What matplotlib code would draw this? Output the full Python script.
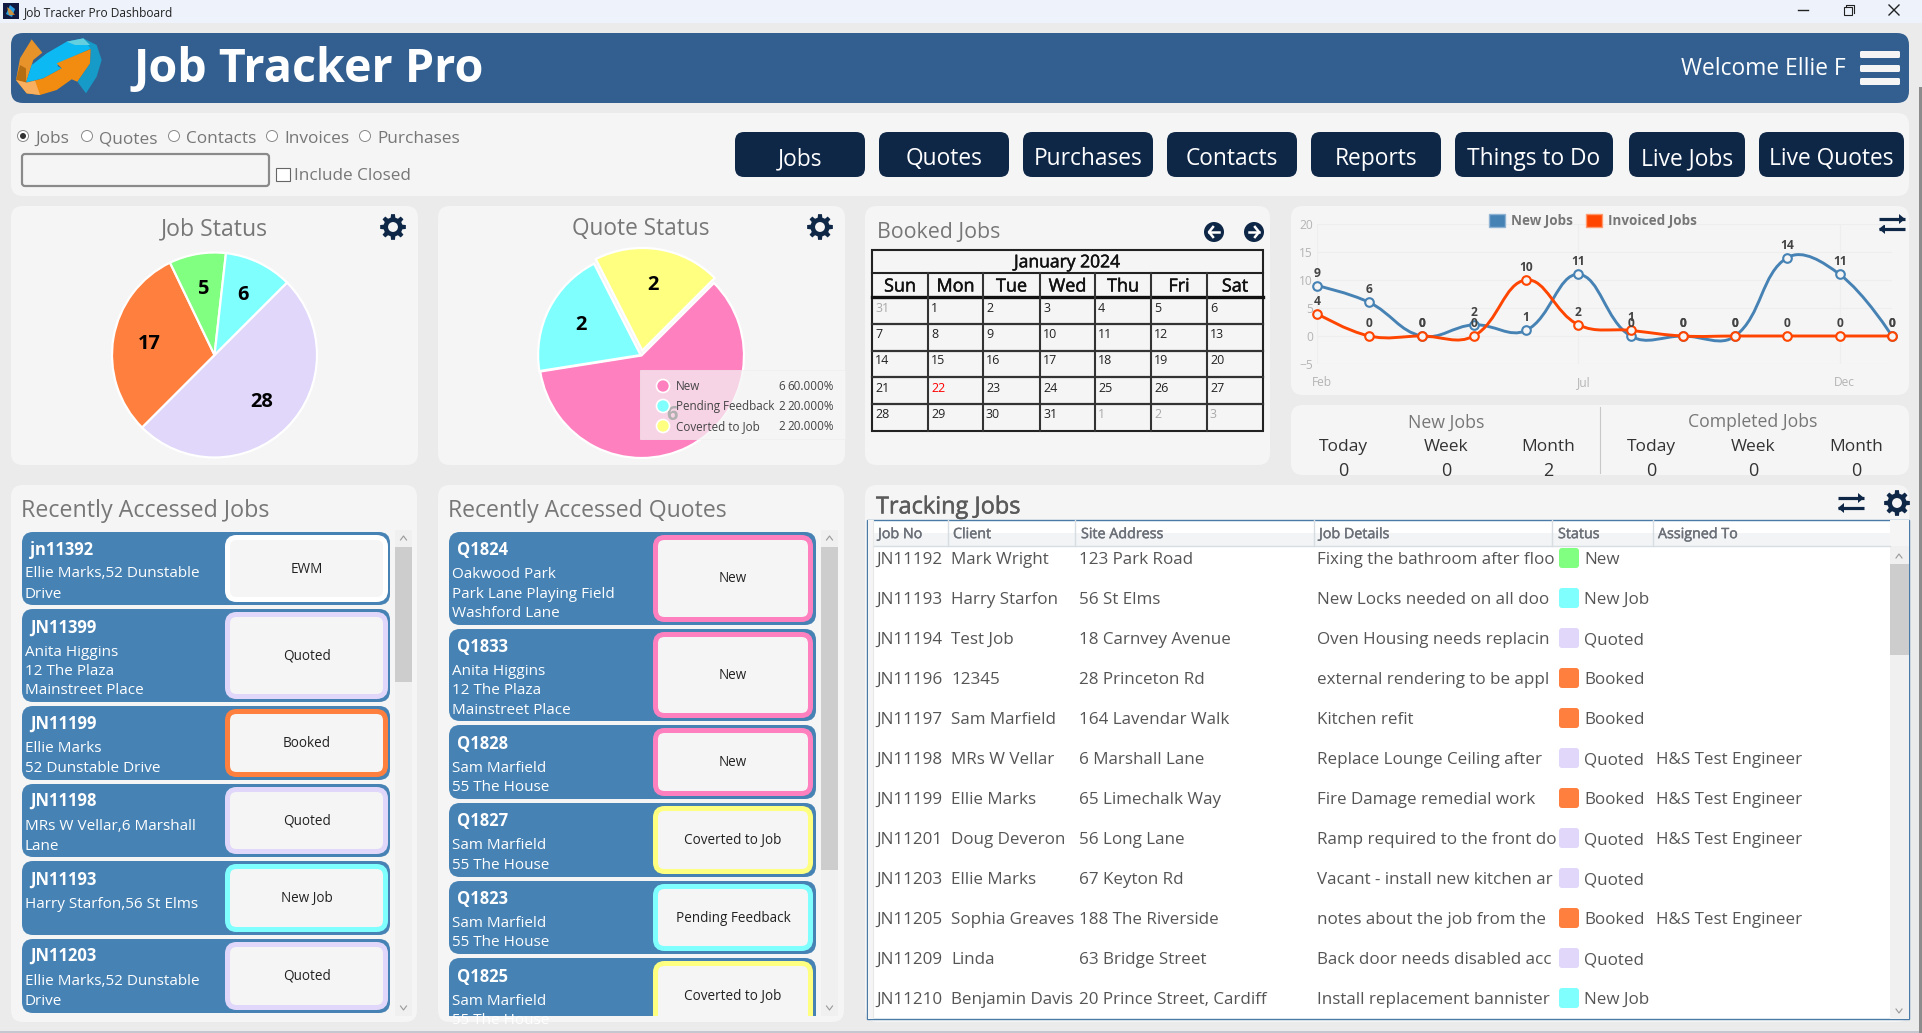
import numpy as np
import matplotlib
matplotlib.use("Agg")
import matplotlib.pyplot as plt
import matplotlib.patheffects as pe
from matplotlib.patches import FancyBboxPatch, Rectangle, Circle, Polygon, PathPatch, Patch
from matplotlib.path import Path
from matplotlib.transforms import ScaledTranslation

plt.rcParams['font.family'] = ['Open Sans', 'DejaVu Sans']

# ---------- data ----------
job_status_labels = ["Quoted", "Booked", "New", "New Job"]
job_status_values = [28, 17, 5, 6]
job_status_colors = ["#e0d7fa", "#ff7f3f", "#80ff80", "#80ffff"]

quote_status_labels = ["New", "Pending Feedback", "Coverted to Job"]
quote_status_values = [6, 2, 2]
quote_status_pct = ["60.000%", "20.000%", "20.000%"]
quote_status_colors = ["#ff80bf", "#80ffff", "#ffff80"]

months = ["Feb", "Mar", "Apr", "May", "Jun", "Jul", "Aug", "Sep", "Oct", "Nov", "Dec", "Jan"]
new_jobs = [9, 6, 0, 2, 1, 11, 0, 0, 0, 14, 11, 0]
invoiced_jobs = [4, 0, 0, 0, 10, 2, 1, 0, 0, 0, 0, 0]

weekdays = ["Sun", "Mon", "Tue", "Wed", "Thu", "Fri", "Sat"]
calendar_days = [[31, 1, 2, 3, 4, 5, 6], [7, 8, 9, 10, 11, 12, 13], [14, 15, 16, 17, 18, 19, 20],
                 [21, 22, 23, 24, 25, 26, 27], [28, 29, 30, 31, 1, 2, 3]]

nav_buttons = ["Jobs", "Quotes", "Purchases", "Contacts", "Reports", "Things to Do", "Live Jobs", "Live Quotes"]
radio_options = ["Jobs", "Quotes", "Contacts", "Invoices", "Purchases"]

stat_heads = ["Today", "Week", "Month", "Today", "Week", "Month"]
stat_values = [0, 0, 2, 0, 0, 0]

job_cards = [
    ("jn11392", ["Ellie Marks,52 Dunstable", "Drive"], "EWM"),
    ("JN11399", ["Anita Higgins", "12 The Plaza", "Mainstreet Place"], "Quoted"),
    ("JN11199", ["Ellie Marks", "52 Dunstable Drive"], "Booked"),
    ("JN11198", ["MRs W Vellar,6 Marshall", "Lane"], "Quoted"),
    ("JN11193", ["Harry Starfon,56 St Elms"], "New Job"),
    ("JN11203", ["Ellie Marks,52 Dunstable", "Drive"], "Quoted"),
]
quote_cards = [
    ("Q1824", ["Oakwood Park", "Park Lane Playing Field", "Washford Lane"], "New"),
    ("Q1833", ["Anita Higgins", "12 The Plaza", "Mainstreet Place"], "New"),
    ("Q1828", ["Sam Marfield", "55 The House"], "New"),
    ("Q1827", ["Sam Marfield", "55 The House"], "Coverted to Job"),
    ("Q1823", ["Sam Marfield", "55 The House"], "Pending Feedback"),
    ("Q1825", ["Sam Marfield", "55 The House"], "Coverted to Job"),
]
table_headers = ["Job No", "Client", "Site Address", "Job Details", "Status", "Assigned To"]
table_rows = [
    ("JN11192", "Mark Wright", "123 Park Road", "Fixing the bathroom after floo", "New", ""),
    ("JN11193", "Harry Starfon", "56 St Elms", "New Locks needed on all doo", "New Job", ""),
    ("JN11194", "Test Job", "18 Carnvey Avenue", "Oven Housing needs replacin", "Quoted", ""),
    ("JN11196", "12345", "28 Princeton Rd", "external rendering to be appl", "Booked", ""),
    ("JN11197", "Sam Marfield", "164 Lavendar Walk", "Kitchen refit", "Booked", ""),
    ("JN11198", "MRs W Vellar", "6 Marshall Lane", "Replace Lounge Ceiling after", "Quoted", "H&S Test Engineer"),
    ("JN11199", "Ellie Marks", "65 Limechalk Way", "Fire Damage remedial work", "Booked", "H&S Test Engineer"),
    ("JN11201", "Doug Deveron", "56 Long Lane", "Ramp required to the front do", "Quoted", "H&S Test Engineer"),
    ("JN11203", "Ellie Marks", "67 Keyton Rd", "Vacant - install new kitchen ar", "Quoted", ""),
    ("JN11205", "Sophia Greaves", "188 The Riverside", "notes about the job from the", "Booked", "H&S Test Engineer"),
    ("JN11209", "Linda", "63 Bridge Street", "Back door needs disabled acc", "Quoted", ""),
    ("JN11210", "Benjamin Davis", "20 Prince Street, Cardiff", "Install replacement bannister", "New Job", ""),
]
status_colors = {"EWM": "#ffffff", "Quoted": "#e0d7fa", "Booked": "#ff7f3f", "New": "#ff80bf",
                 "New Job": "#80ffff", "Coverted to Job": "#ffff80", "Pending Feedback": "#80ffff"}
table_status_colors = dict(status_colors, New="#80ff80")

# ---------- colours ----------
BG, PANEL, HEADER, NAVY, CARD = "#ebebeb", "#f5f5f5", "#325f8f", "#0f2747", "#4682b4"
GREY, DARK = "#777777", "#444444"
W, H = 1922, 1033

fig = plt.figure(figsize=(W / 100, H / 100), dpi=100, facecolor=BG)


def pixel_axes(z):
    a = fig.add_axes([0, 0, 1, 1], zorder=z)
    a.set_xlim(0, W)
    a.set_ylim(H, 0)
    a.axis("off")
    a.patch.set_alpha(0)
    return a


ui = pixel_axes(0)
top = pixel_axes(10)


def T(x, y, s, px, color=DARK, ha="left", weight="normal", ax=ui, clip=None, stroke=0):
    t = ax.text(x, y + 0.36 * px, s, fontsize=px * 0.72, color=color, ha=ha, va="baseline", fontweight=weight)
    if stroke:
        t.set_path_effects([pe.withStroke(linewidth=stroke, foreground=color)])
    if clip is not None:
        t.set_clip_path(Rectangle((clip[0], clip[1]), clip[2] - clip[0], clip[3] - clip[1], transform=ax.transData))
    return t


def RR(x0, y0, x1, y1, r, fc, ec="none", lw=0, ax=ui, z=1, clip=None):
    p = FancyBboxPatch((x0, y0), x1 - x0, y1 - y0, boxstyle=f"round,pad=0,rounding_size={r}",
                       fc=fc, ec=ec, lw=lw * 0.72, zorder=z)
    ax.add_patch(p)
    if clip is not None:
        p.set_clip_path(Rectangle((clip[0], clip[1]), clip[2] - clip[0], clip[3] - clip[1], transform=ax.transData))
    return p


def gear(cx, cy, R=13, bg=PANEL):
    teeth = 8
    pts = []
    for i in range(teeth):
        a = 2 * np.pi * i / teeth
        da = np.pi / teeth
        for ang, rad in [(a - da * .62, R * .74), (a - da * .38, R), (a + da * .38, R), (a + da * .62, R * .74)]:
            pts.append((cx + rad * np.sin(ang), cy - rad * np.cos(ang)))
    ui.add_patch(Polygon(pts, fc=NAVY, ec="none", zorder=3))
    ui.add_patch(Circle((cx, cy), R * .38, fc=bg, ec="none", zorder=4))


def swap(cx, cy, ax=ui):
    for yy, sign in [(cy - 5, 1), (cy + 5, -1)]:
        ax.plot([cx - 13, cx + 13], [yy, yy], color=NAVY, lw=2.3, solid_capstyle="butt", zorder=3)
        tip = cx + 13 * sign
        ax.add_patch(Polygon([(tip, yy), (tip - 6 * sign, yy - 5), (tip - 6 * sign, yy + 5)], fc=NAVY, ec="none", zorder=3))


def chevron(x, y, up, ax=ui):
    d = -2 if up else 2
    ax.plot([x - 3, x, x + 3], [y - d, y + d, y - d], color="#999999", lw=0.8, zorder=3)


# ---------- title bar ----------
ui.add_patch(Rectangle((0, 0), W, 23, fc="#eef3fb", ec="none"))
ui.add_patch(Rectangle((3, 3), 16, 16, fc="#101a40", ec="none"))
ui.add_patch(Polygon([(6, 14), (10, 5), (15, 9), (12, 17)], fc="#2a9ee0", ec="none", zorder=2))
ui.add_patch(Polygon([(7, 7), (11, 10), (15, 15), (9, 15)], fc="#f09020", ec="none", zorder=2, alpha=.8))
T(24, 12, "Job Tracker Pro Dashboard", 12, "#222222")
ui.plot([1798, 1808], [10, 10], color="#222222", lw=1)
ui.add_patch(Rectangle((1844, 7), 8, 8, fc="none", ec="#222222", lw=.8))
ui.plot([1846, 1846, 1854, 1854], [7, 5, 5, 13], color="#222222", lw=.8)
ui.plot([1889, 1899], [5, 15], color="#222222", lw=1)
ui.plot([1899, 1889], [5, 15], color="#222222", lw=1)

# ---------- header ----------
RR(11, 33, 1909, 103, 12, HEADER)


def logo(pts, c, z=3):
    ui.add_patch(Polygon([(x / 3, 30 + y / 3) for x, y in pts], fc=c, ec="none", zorder=z))


logo([(48, 150), (60, 85), (95, 28), (127, 68), (100, 90), (78, 158)], "#e8922a")
logo([(48, 150), (60, 105), (78, 115), (78, 158)], "#b56d12", 3)
logo([(78, 158), (95, 105), (140, 70), (200, 35), (250, 25), (275, 55), (180, 98), (172, 108), (185, 115), (130, 145)], "#0cb9f2", 4)
logo([(200, 35), (250, 25), (270, 45), (225, 45)], "#63cfdf", 5)
logo([(250, 25), (290, 45), (305, 90), (290, 140), (258, 190), (232, 155), (270, 100), (272, 57)], "#169ac8", 4)
logo([(48, 150), (80, 158), (130, 145), (185, 115), (170, 100), (272, 57), (270, 100), (232, 155), (215, 148), (170, 180), (120, 195), (80, 190)], "#f28c10", 5)
logo([(48, 150), (80, 158), (105, 152), (120, 195), (80, 190)], "#f8b060", 6)

T(134, 65, "Job Tracker Pro", 46.7, "#ffffff", weight="bold")
T(1681, 67, "Welcome Ellie F", 22.7, "#ffffff")
for y0, y1 in [(51, 58), (65, 72), (78, 85)]:
    RR(1860, y0, 1900, y1, 1.5, "#f5f5f5", z=3)

# ---------- search panel ----------
RR(11, 113, 1909, 196, 12, PANEL)
radio_cx = [23, 87, 174, 272, 365]
for i, (cx, lab) in enumerate(zip(radio_cx, radio_options)):
    ui.add_patch(Circle((cx, 136), 5.5, fc="#ffffff", ec="#888888", lw=.7, zorder=3))
    if i == 0:
        ui.add_patch(Circle((cx, 136), 3, fc="#333333", ec="none", zorder=4))
    T(cx + 12, 137, lab, 17.2, GREY)
RR(22, 154, 269, 186, 3, PANEL, "#8a8a8a", 2.2, z=3)
ui.add_patch(Rectangle((276, 168), 14, 13, fc="#ffffff", ec="#666666", lw=.8, zorder=3))
T(294, 174, "Include Closed", 17.1, GREY)
btn_x = [(735, 865), (879, 1009), (1023, 1153), (1167, 1297), (1311, 1441), (1455, 1613), (1629, 1745), (1759, 1904)]
for (x0, x1), lab in zip(btn_x, nav_buttons):
    RR(x0, 132, x1, 177, 9, NAVY, z=3)
    T((x0 + x1) / 2, 157, lab, 22.7, "#ffffff", ha="center")

# ---------- panels ----------
for x0, y0, x1, y1 in [(11, 206, 418, 465), (438, 206, 845, 465), (865, 206, 1270, 465),
                       (1291, 206, 1909, 395), (1291, 405, 1909, 475),
                       (11, 485, 417, 1022), (438, 485, 844, 1022), (865, 485, 1909, 1022)]:
    RR(x0, y0, x1, y1, 12, PANEL)

T(214, 227, "Job Status", 23, GREY, ha="center")
T(641, 227, "Quote Status", 22.6, GREY, ha="center")
gear(393, 227)
gear(820, 227)


# ---------- pies ----------
def pie_axes(cx, cy, r, m=1.12):
    s = r * m
    a = fig.add_axes([(cx - s) / W, 1 - (cy + s) / H, 2 * s / W, 2 * s / H], zorder=5)
    return a, m


def count_fmt(values):
    total = sum(values)
    return lambda p: f"{round(p * total / 100):d}"


ax1, m = pie_axes(214.5, 355, 102.5)
ax1.pie(job_status_values, colors=job_status_colors, startangle=45, counterclock=False,
        autopct=count_fmt(job_status_values), pctdistance=0.65,
        wedgeprops=dict(edgecolor="#ffffff", linewidth=1.6),
        textprops=dict(fontsize=20 * .72, fontweight="bold", color="#000000"))
ax1.set_xlim(-m, m)
ax1.set_ylim(-m, m)

ax2, m = pie_axes(641.5, 355.5, 102.5)
wedges, _, auts = ax2.pie(quote_status_values, colors=quote_status_colors, startangle=45, counterclock=False,
                          explode=[0, 0.01, 0.05], autopct=count_fmt(quote_status_values), pctdistance=0.65,
                          wedgeprops=dict(edgecolor="#ffffff", linewidth=1.6),
                          textprops=dict(fontsize=20 * .72, fontweight="bold", color="#000000"))
ax2.set_xlim(-m, m)
ax2.set_ylim(-m, m)

# quote legend (tooltip style)
top.add_patch(Rectangle((640, 370), 205, 69, fc="#f5f5f5", ec="#eeeeee", lw=.6, alpha=.72, zorder=1))
for i, yy in enumerate([386, 406, 426]):
    top.add_patch(Circle((663, yy), 6.5, fc=quote_status_colors[i], ec="#ffffff", lw=1.2, zorder=2))
    T(676, yy, quote_status_labels[i], 11.6, DARK, ax=top)
    T(778, yy, str(quote_status_values[i]), 11.6, DARK, ax=top)
    T(834, yy, quote_status_pct[i], 11.6, DARK, ha="right", ax=top)

# ---------- calendar ----------
T(877, 230, "Booked Jobs", 21.4, GREY)
for cx, sgn in [(1214, -1), (1254, 1)]:
    ui.add_patch(Circle((cx, 232), 10, fc=NAVY, ec="none", zorder=3))
    ui.plot([cx - 5, cx + 5], [232, 232], color="#ffffff", lw=1.8, zorder=4)
    ui.plot([cx + sgn, cx + 5 * sgn, cx + sgn], [227, 232, 237], color="#ffffff", lw=1.8, zorder=4)

col_x = [872, 928, 983, 1040, 1095, 1151, 1207, 1263]
row_y = [297, 323.5, 350.5, 377, 404, 431]
date_y = [307, 333, 359, 387, 414]
ui.add_patch(Rectangle((872, 250), 391, 181, fc="none", ec="#222222", lw=1.5, zorder=3))
ui.plot([872, 1263], [273, 273], color="#222222", lw=1.5, zorder=3)
ui.plot([872, 1263], [297, 297], color="#111111", lw=2.4, zorder=3)
for x in col_x[1:-1]:
    ui.plot([x, x], [273, 431], color="#333333", lw=1.5, zorder=3)
for y in row_y[1:-1]:
    ui.plot([872, 1263], [y, y], color="#333333", lw=1.6, zorder=3)
T(1067, 261, "January 2024", 17.5, "#111111", ha="center", stroke=.35)
for i, d in enumerate(weekdays):
    T((col_x[i] + col_x[i + 1]) / 2, 285, d, 18, "#111111", ha="center", stroke=.35)
for r, week in enumerate(calendar_days):
    for c, d in enumerate(week):
        other = (r == 0 and d > 20) or (r == 4 and d < 10)
        col = "#aaaaaa" if other else ("#ff0000" if (r == 3 and c == 1) else "#222222")
        T(col_x[c] + 3, date_y[r], str(d), 12.5, col)

# ---------- line chart ----------
x0_px, x1_px, ytop_px, ybot_px = 1317, 1892, 224, 364
ax3 = fig.add_axes([x0_px / W, 1 - ybot_px / H, (x1_px - x0_px) / W, (ybot_px - ytop_px) / H], zorder=5)
ax3.patch.set_alpha(0)
xs = np.arange(len(months))
ax3.set_xlim(0, 11)
ax3.set_ylim(-5, 20)
for s in ax3.spines.values():
    s.set_visible(False)
ax3.set_yticks([-5, 0, 5, 10, 15, 20])
ax3.set_xticks([0, 5, 10])
ax3.set_xticklabels([months[0], months[5], months[10]])
ax3.grid(True, color="#eeeeee", lw=.8)
ax3.set_axisbelow(True)
ax3.tick_params(length=0, labelsize=12 * .72, labelcolor="#b5b5b5", pad=3)
ax3.tick_params(axis="x", pad=9)
for lab in ax3.get_xticklabels():
    lab.set_transform(lab.get_transform() + ScaledTranslation(5 / 100, 0, fig.dpi_scale_trans))
sx, sy = (x1_px - x0_px) / 11, (ybot_px - ytop_px) / 25


def spline_path(vals, t=0.4):
    """Chart.js style bezier through the data values, tension t."""
    v = np.asarray(vals, float)
    n = len(v)
    P = np.c_[np.arange(n) * sx, v * sy]
    c1, c2 = P.copy(), P.copy()
    for i in range(1, n - 1):
        d01 = np.hypot(*(P[i] - P[i - 1]))
        d12 = np.hypot(*(P[i + 1] - P[i]))
        s01 = d01 / (d01 + d12)
        s12 = d12 / (d01 + d12)
        c1[i] = P[i] - t * s01 * (P[i + 1] - P[i - 1])
        c2[i] = P[i] + t * s12 * (P[i + 1] - P[i - 1])
    verts = [P[0]]
    codes = [Path.MOVETO]
    for i in range(n - 1):
        verts += [c2[i], c1[i + 1], P[i + 1]]
        codes += [Path.CURVE4] * 3
    verts = np.array(verts) / [sx, sy]
    return Path(verts, codes)


for vals, col, z in [(new_jobs, "#4682b4", 3), (invoiced_jobs, "#ff4500", 4)]:
    ax3.add_patch(PathPatch(spline_path(vals), fc="none", ec=col, lw=2.1, clip_on=False, zorder=z))
    ax3.plot(xs, vals, ls="none", marker="o", ms=6.2, mfc="#f5f5f5", mec=col, mew=1.5, clip_on=False, zorder=z + 1)
    for xi, v in zip(xs, vals):
        ax3.annotate(str(v), (xi, v), xytext=(0, 6), textcoords="offset pixels",
                     ha="center", va="bottom", fontsize=12 * .72, fontweight="bold", color="#444444", zorder=7,
                     annotation_clip=False)
fig.legend(handles=[Patch(fc="#4682b4", ec="#8fb3d3", label="New Jobs"),
                    Patch(fc="#ff4500", ec="#ff9a70", label="Invoiced Jobs")],
           loc="center", bbox_to_anchor=(1593 / W, 1 - 221 / H), ncol=2, frameon=False,
           labelcolor="#777777", handlelength=1.15, handleheight=1.15,
           handletextpad=.45, columnspacing=1.0, prop=dict(size=13.5 * .72, weight="bold"))
swap(1892, 224)

# ---------- stats ----------
ui.plot([1600, 1600], [407, 473], color="#c8c8c8", lw=.8, zorder=3)
T(1446, 421, "New Jobs", 17.7, GREY, ha="center")
T(1753, 421, "Completed Jobs", 17.6, GREY, ha="center")
for x, h, v in zip([1343, 1446, 1548, 1651, 1753, 1856], stat_heads, stat_values):
    T(x, 445, h, 17.4, "#333333", ha="center")
    T(x, 470, str(v), 18, "#333333", ha="center", clip=(1291, 405, 1909, 473))

# ---------- recent lists ----------
T(21, 509, "Recently Accessed Jobs", 23.2, GREY)
T(448, 509, "Recently Accessed Quotes", 23, GREY)

job_spans = [(532, 605), (609, 702), (706, 780), (784, 857), (861, 935), (939, 1013)]
job_line_y = [[572, 593], [651, 670, 689], [747, 767], [825, 845], [903], [980, 1000]]
job_id_y = [549, 627, 723, 800, 879, 955]
job_stat_y = [568, 655, 742, 820, 897, 975]
quote_spans = [(532, 625), (629, 721), (725, 799), (803, 877), (881, 954), (958, 1032)]
quote_line_y = [[573, 593, 612], [670, 689, 709], [767, 786], [844, 864], [922, 941], [1000, 1019]]
quote_id_y = [549, 646, 743, 820, 898, 976]
quote_stat_y = [577, 674, 761, 839, 917, 995]


def cards(items, spans, id_y, line_y, stat_y, x0, x1, ix0, ix1, tx, clip):
    for (cid, lines, st), (y0, y1), iy, ly, sy_ in zip(items, spans, id_y, line_y, stat_y):
        RR(x0, y0, x1, y1, 11, CARD, z=2, clip=clip)
        RR(ix0 + 2.5, y0 + 5.5, ix1 - 2.5, y1 - 5.5, 9, PANEL, status_colors[st], 5, z=3, clip=clip)
        T(tx + 5, iy, cid, 16.5, "#ffffff", weight="bold", clip=clip)
        for s, yy in zip(lines, ly):
            T(tx, yy, s, 15.2, "#ffffff", clip=clip)
        T((ix0 + ix1) / 2, sy_, st, 13.5, "#222222", ha="center", clip=clip)


cards(job_cards, job_spans, job_id_y, job_line_y, job_stat_y, 22, 390, 225, 388, 25, (0, 525, 395, 1016))
cards(quote_cards, quote_spans, quote_id_y, quote_line_y, quote_stat_y, 449, 816, 653, 813, 452, (440, 525, 820, 1016))

for sx0, sx1, ty1, thumb1 in [(395, 412, 1016, 682), (821, 838, 1016, 870)]:
    ui.add_patch(Rectangle((sx0, 530), sx1 - sx0, ty1 - 530, fc="#f0f0f0", ec="none", zorder=2))
    ui.add_patch(Rectangle((sx0, 547), sx1 - sx0, thumb1 - 547, fc="#cdcdcd", ec="none", zorder=3))
    chevron((sx0 + sx1) / 2, 538, True)
    chevron((sx0 + sx1) / 2, 1008, False)

# ---------- tracking table ----------
T(876, 505, "Tracking Jobs", 23.5, "#5a5a5a", stroke=.35)
swap(1851, 503)
gear(1897, 503, 13)
ui.add_patch(Rectangle((867, 519.5), 1042, 499.5, fc="#ffffff", ec="#4a7ba7", lw=1, zorder=2))
ui.add_patch(Rectangle((867.5, 520), 5.5, 498.5, fc="#f5f5f5", ec="none", zorder=2))
ui.add_patch(Rectangle((873, 533), 1017, 13, fc="#f2f4f6", ec="none", zorder=2))
ui.add_patch(Rectangle((1890, 520), 18.5, 26, fc="#f5f5f5", ec="none", zorder=3))
ui.plot([873, 1890], [546, 546], color="#d8dde2", lw=1, zorder=3)
ui.plot([873, 873], [520, 1018], color="#e8e8e8", lw=.8, zorder=3)
sep_x = [948, 1075, 1314, 1552, 1653]
for x in sep_x:
    ui.plot([x, x], [520, 546], color="#d8dde2", lw=1, zorder=3)
head_x = [878, 953, 1081, 1319, 1558, 1658]
for x, h in zip(head_x, table_headers):
    T(x, 533, h, 14.3, "#6b7078", stroke=.3).set_zorder(4)
row_ys = [558, 598, 638, 678, 718, 758, 798, 838, 878, 918, 958, 998]
cell_x = [876, 951, 1079, 1317, 1584, 1656]
for yy, row in zip(row_ys, table_rows):
    for j, (x, s) in enumerate(zip(cell_x, row)):
        t = T(x, yy, s, 17, "#555555", clip=(1300, 520, 1551, 1018) if j == 3 else None)
        t.set_zorder(4)
    RR(1559, yy - 10, 1579, yy + 10, 3, table_status_colors[row[4]], z=4)
ui.add_patch(Rectangle((1890, 546), 18.5, 472.5, fc="#f0f0f0", ec="none", zorder=3))
ui.add_patch(Rectangle((1890, 564), 18.5, 91, fc="#cdcdcd", ec="none", zorder=4))
chevron(1899, 556, True)
chevron(1899, 1011, False)
for c in ui.lines:
    c.set_zorder(max(c.get_zorder(), 5))

# ---------- window edge ----------
ui.add_patch(Rectangle((0, 1031), W, 2, fc="#c4c6d0", ec="none", zorder=8))
ui.add_patch(Rectangle((1919, 87), 3, 946, fc="#8c8c8c", ec="none", zorder=8))

fig.savefig("out.png", dpi=100, facecolor=BG)
